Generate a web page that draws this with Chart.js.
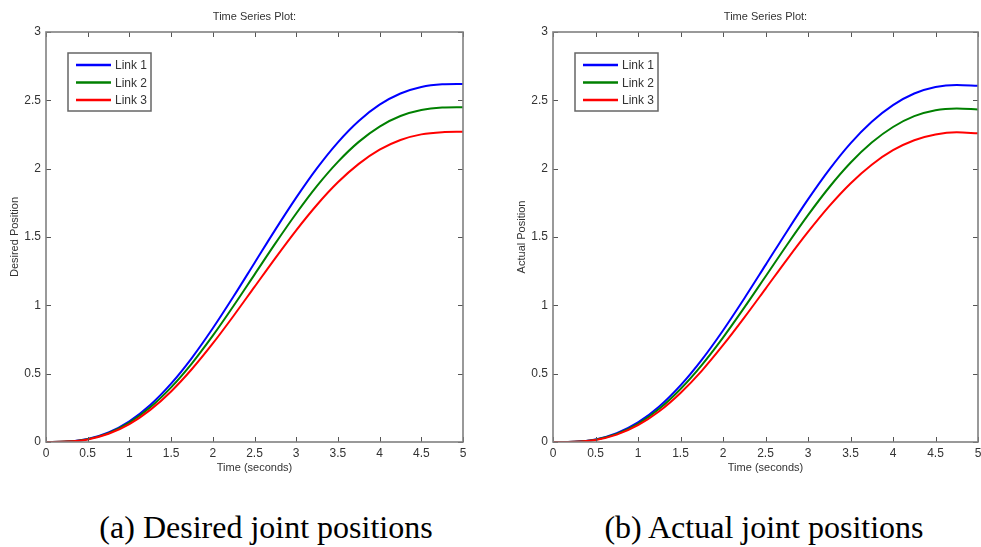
<!DOCTYPE html>
<html>
<head>
<meta charset="utf-8">
<script src="https://cdn.jsdelivr.net/npm/chart.js@4/dist/chart.umd.min.js"></script>
<style>
body { margin: 0; background: #fff; width: 981px; height: 547px; position: relative; overflow: hidden; }
.box { position: absolute; top: 0; height: 480px; }
.cap { position: absolute; top: 509px; width: 440px; text-align: center; white-space: nowrap;
       font-family: "Liberation Serif", "Times New Roman", serif; font-size: 32px; color: #000; }
</style>
</head>
<body>
<div class="box" style="left:0;width:480px"><canvas id="desired"></canvas></div>
<div class="box" style="left:507px;width:480px"><canvas id="actual"></canvas></div>
<div class="cap" style="left:46px">(a) Desired joint positions</div>
<div class="cap" style="left:544px">(b) Actual joint positions</div>
<script>
// sample times (s)
var times = [0, 0.25, 0.5, 0.75, 1, 1.25, 1.5, 1.75, 2, 2.25, 2.5, 2.75, 3, 3.25, 3.5, 3.75, 4, 4.25, 4.5, 4.75, 5]
var timeTicks = [0, 0.5, 1, 1.5, 2, 2.5, 3, 3.5, 4, 4.5, 5]
var posTicks = [0, 0.5, 1, 1.5, 2, 2.5, 3]
var linkNames = ['Link 1', 'Link 2', 'Link 3']
var linkColors = ['#0000ff', '#008000', '#ff0000']

// (a) desired
var desired1 = [0, 0.003, 0.022, 0.07, 0.152, 0.271, 0.427, 0.616, 0.832, 1.066, 1.31, 1.554, 1.788, 2.004, 2.193, 2.349, 2.468, 2.55, 2.598, 2.617, 2.62]
var desired2 = [0, 0.003, 0.021, 0.065, 0.142, 0.254, 0.4, 0.576, 0.778, 0.997, 1.225, 1.453, 1.672, 1.874, 2.05, 2.196, 2.308, 2.385, 2.429, 2.447, 2.45]
var desired3 = [0, 0.003, 0.019, 0.06, 0.131, 0.235, 0.37, 0.534, 0.721, 0.924, 1.135, 1.346, 1.549, 1.736, 1.9, 2.035, 2.139, 2.21, 2.251, 2.267, 2.27]

// (b) actual
var actual1 = [0, 0.002, 0.018, 0.064, 0.143, 0.26, 0.414, 0.601, 0.816, 1.05, 1.294, 1.539, 1.775, 1.993, 2.185, 2.343, 2.465, 2.55, 2.598, 2.613, 2.606]
var actual2 = [0, 0.002, 0.017, 0.059, 0.133, 0.243, 0.388, 0.563, 0.764, 0.983, 1.211, 1.44, 1.66, 1.864, 2.043, 2.191, 2.305, 2.384, 2.428, 2.44, 2.433]
var actual3 = [0, 0.002, 0.015, 0.054, 0.123, 0.225, 0.359, 0.521, 0.708, 0.91, 1.121, 1.333, 1.537, 1.726, 1.892, 2.029, 2.135, 2.208, 2.25, 2.266, 2.259]

var FONT = '"Liberation Sans", Arial, sans-serif'
var TXT = '#333'

// box, inward ticks, title and legend like the matlab figure
const frame = {
    id: 'frame',
    afterDraw(chart, args, opts) {
        const ctx = chart.ctx
        const a = chart.chartArea
        const x = chart.scales.x, y = chart.scales.y
        ctx.save()
        ctx.strokeStyle = '#555'
        ctx.lineWidth = 1
        ctx.beginPath()
        timeTicks.forEach(function(v) {
            var px = Math.round(x.getPixelForValue(v)) + 0.5
            ctx.moveTo(px, a.bottom); ctx.lineTo(px, a.bottom - 5)
            ctx.moveTo(px, a.top); ctx.lineTo(px, a.top + 5)
        })
        posTicks.forEach(function(v) {
            var py = Math.round(y.getPixelForValue(v)) + 0.5
            ctx.moveTo(a.left, py); ctx.lineTo(a.left + 5, py)
            ctx.moveTo(a.right, py); ctx.lineTo(a.right - 5, py)
        })
        ctx.stroke()
        ctx.strokeStyle = '#808080'
        ctx.lineWidth = 1.6
        ctx.strokeRect(a.left, a.top, a.right - a.left, a.bottom - a.top)

        ctx.fillStyle = TXT
        ctx.font = '11px ' + FONT
        ctx.textAlign = 'center'
        ctx.textBaseline = 'middle'
        ctx.fillText(opts.title, (a.left + a.right) / 2, a.top - 15)

        // legend
        var lx = a.left + 22, ly = a.top + 21
        ctx.fillStyle = '#fff'
        ctx.fillRect(lx, ly, 83, 58)
        ctx.strokeStyle = '#666'
        ctx.lineWidth = 1.5
        ctx.strokeRect(lx, ly, 83, 58)
        ctx.font = '12px ' + FONT
        ctx.textAlign = 'left'
        chart.data.datasets.forEach(function(ds, i) {
            var ry = ly + 12 + i * 17.5
            ctx.strokeStyle = ds.borderColor
            ctx.lineWidth = 2.5
            ctx.beginPath()
            ctx.moveTo(lx + 8, ry); ctx.lineTo(lx + 43, ry)
            ctx.stroke()
            ctx.fillStyle = TXT
            ctx.fillText(ds.label, lx + 47, ry + 1)
        })
        ctx.restore()
    }
}

function makeChart(id, series, yTitle, title, padRight) {
    var datasets = []
    for (var k = 0; k < series.length; k++) {
        datasets.push({
            label: linkNames[k],
            data: times.map(function(t, i) { return {x: t, y: series[k][i]} }),
            borderColor: linkColors[k],
            borderWidth: 2,
            pointRadius: 0,
            cubicInterpolationMode: 'monotone',
            order: series.length - k
        })
    }
    return new Chart(document.getElementById(id), {
        type: 'line',
        data: { datasets: datasets },
        plugins: [frame],
        options: {
            responsive: true,
            maintainAspectRatio: false,
            animation: false,
            layout: { padding: { top: 32, right: padRight, left: 0, bottom: 0 } },
            plugins: {
                legend: { display: false },
                tooltip: { enabled: false },
                frame: { title: title }
            },
            scales: {
                x: {
                    type: 'linear', min: 0, max: 5,
                    afterBuildTicks: function(s) { s.ticks = timeTicks.map(function(v) { return {value: v} }) },
                    afterFit: function(s) { s.height = 38 },
                    grid: { display: false, drawTicks: false },
                    border: { display: false },
                    ticks: { padding: 4, color: TXT, font: { family: FONT, size: 12 }, maxRotation: 0, autoSkip: false,
                             callback: function(v) { return String(v) } },
                    title: { display: true, text: 'Time (seconds)', color: TXT, font: { family: FONT, size: 11 }, padding: { top: 0, bottom: 5 } }
                },
                y: {
                    type: 'linear', min: 0, max: 3,
                    afterBuildTicks: function(s) { s.ticks = posTicks.map(function(v) { return {value: v} }) },
                    afterFit: function(s) { s.width = 46 },
                    grid: { display: false, drawTicks: false },
                    border: { display: false },
                    ticks: { padding: 5, color: TXT, font: { family: FONT, size: 12 },
                             callback: function(v) { return String(v) } },
                    title: { display: true, text: yTitle, color: TXT, font: { family: FONT, size: 11 }, padding: { top: 8, bottom: 0 } }
                }
            }
        }
    })
}

makeChart('desired', [desired1, desired2, desired3], 'Desired Position', 'Time Series Plot:', 17)
makeChart('actual', [actual1, actual2, actual3], 'Actual Position', 'Time Series Plot:', 9)
</script>
</body>
</html>
